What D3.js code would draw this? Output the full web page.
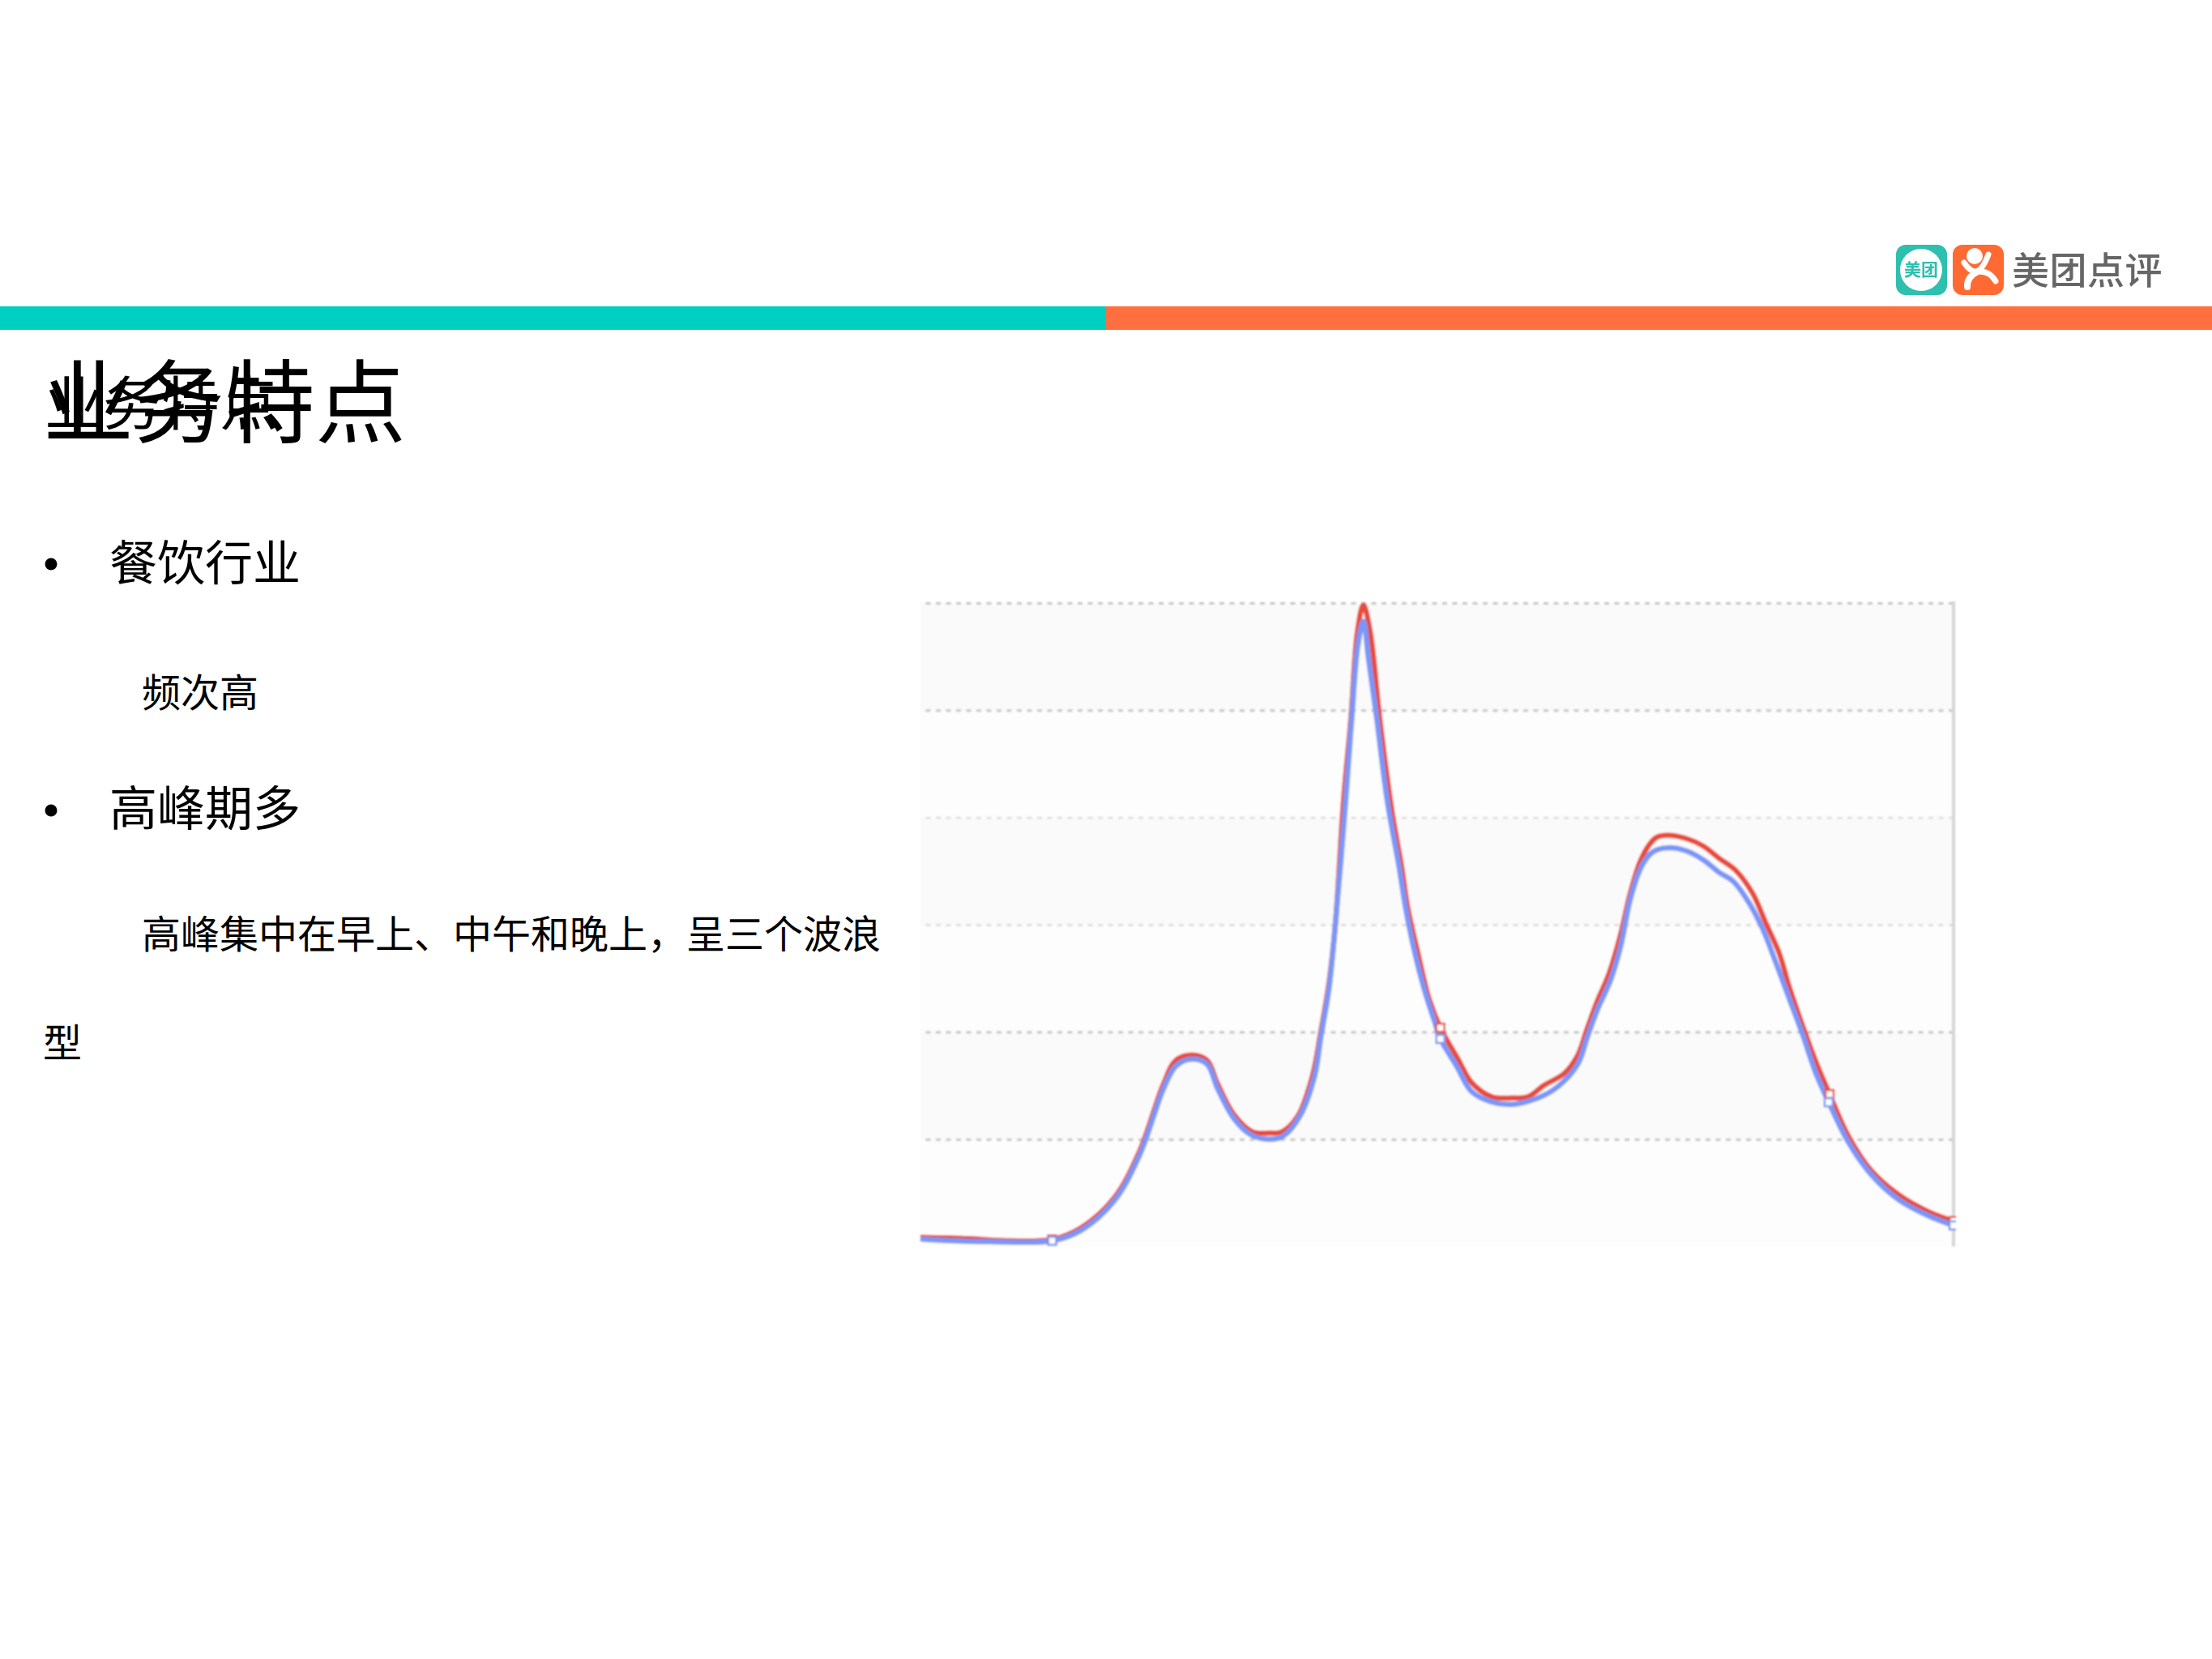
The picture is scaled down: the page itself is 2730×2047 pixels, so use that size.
<!DOCTYPE html>
<html lang="zh">
<head>
<meta charset="utf-8">
<title>业务特点</title>
<script src="https://cdn.jsdelivr.net/npm/d3@7/dist/d3.min.js"></script>
<style>
html,body{margin:0;padding:0;background:#fff}
svg{display:block}
text{font-family:"Noto Sans CJK SC","Noto Sans",sans-serif;fill:#000}
</style>
</head>
<body>
<script>
// ---- chart data (x = hour of day, y = orders in grid units) ----
const blueHours = [0,0.66,1.62,3.06,3.73,4.5,5.08,5.65,5.94,6.31,6.66,6.9,7.28,7.67,8.1,8.43,8.82,9.16,9.3,9.49,9.64,9.88,10.02,10.16,10.29,10.41,10.6,10.84,11.12,11.27,11.46,11.7,11.94,12.08,12.47,12.8,13.27,13.76,14.34,14.8,15.27,15.49,15.72,16.03,16.26,16.49,16.72,16.95,17.11,17.41,17.8,18.18,18.57,18.88,19.26,19.57,19.87,20.18,20.49,20.8,21.1,21.56,22.1,22.72,23.41,24];
const blueValues = [0.07,0.055,0.045,0.053,0.15,0.425,0.841,1.474,1.685,1.748,1.7,1.474,1.194,1.043,1,1.03,1.219,1.597,1.95,2.403,3.008,4.164,4.922,5.602,5.829,5.479,4.922,4.166,3.537,3.159,2.781,2.403,2.1,1.935,1.672,1.446,1.348,1.325,1.384,1.489,1.7,1.95,2.201,2.482,2.789,3.237,3.517,3.658,3.699,3.718,3.688,3.607,3.484,3.405,3.197,2.957,2.649,2.313,1.98,1.617,1.345,0.97,0.665,0.438,0.287,0.196];
const redHours = [0,1.14,1.9,3.06,3.73,4.5,5.08,5.65,5.94,6.31,6.66,6.9,7.28,7.72,8.1,8.39,8.77,9.11,9.3,9.49,9.64,9.83,10,10.15,10.29,10.45,10.67,10.96,11.18,11.32,11.56,11.82,12.08,12.5,12.8,13.27,13.76,14.11,14.49,14.96,15.27,15.49,15.72,15.99,16.26,16.49,16.72,16.95,17.11,17.41,17.8,18.18,18.57,18.95,19.33,19.64,19.95,20.18,20.49,20.8,21.12,21.56,22.1,22.72,23.41,24];
const redValues = [0.085,0.073,0.055,0.066,0.174,0.453,0.879,1.521,1.738,1.786,1.736,1.521,1.232,1.068,1.058,1.068,1.219,1.597,2.003,2.456,3.008,4.166,4.922,5.728,5.98,5.728,4.922,4.043,3.537,3.159,2.73,2.305,2.04,1.74,1.53,1.396,1.384,1.396,1.504,1.614,1.783,2.033,2.285,2.539,2.902,3.295,3.59,3.756,3.816,3.834,3.803,3.735,3.615,3.503,3.295,3.015,2.736,2.426,2.063,1.726,1.421,1.028,0.703,0.484,0.326,0.237];
const markerIndexBlue = [3,33,60,65];
const markerIndexRed = [3,32,60,65];
const gridTicks = [1,2,3,4,5,6];
const strongGrid = [1,2,5,6];
const xDomain = [0,24];
const yDomain = [0,6];

// ---- slide text ----
const slideTitle = "业务特点";
const bullets = ["餐饮行业","高峰期多"];
const subLine1 = "频次高";
const subLine2 = "高峰集中在早上、中午和晚上，呈三个波浪";
const subLine3 = "型";
const logoText = "美团点评";
const logoInner = "美团";

const svg = d3.select("body").append("svg").attr("width",2730).attr("height",2047).attr("viewBox","0 0 2730 2047");
const defs = svg.append("defs");
defs.append("filter").attr("id","soft").attr("x","-5%").attr("y","-5%").attr("width","110%").attr("height","110%")
  .append("feGaussianBlur").attr("stdDeviation",1.1);
defs.append("filter").attr("id","softLogo").append("feGaussianBlur").attr("stdDeviation",0.7);
defs.append("clipPath").attr("id","plotClip").append("rect").attr("x",1130).attr("y",735).attr("width",1284).attr("height",805);

// ---- header bars ----
svg.append("rect").attr("x",0).attr("y",378).attr("width",1365).attr("height",29).attr("fill","#00cec1");
svg.append("rect").attr("x",1365).attr("y",378).attr("width",1365).attr("height",29).attr("fill","#ff6f40");

// ---- logo ----
const logo = svg.append("g").attr("filter","url(#softLogo)");
logo.append("rect").attr("x",2340).attr("y",302).attr("width",63).attr("height",62).attr("rx",12).attr("fill","#2fbfae");
logo.append("circle").attr("cx",2371).attr("cy",333).attr("r",26).attr("fill","#fff");
logo.append("text").attr("x",2371).attr("y",340).attr("text-anchor","middle").attr("font-size",21).attr("font-weight",700).style("fill","#2fbfae").text(logoInner);
logo.append("rect").attr("x",2410).attr("y",302).attr("width",63).attr("height",62).attr("rx",12).attr("fill","#ff6a33");
logo.append("circle").attr("cx",2437).attr("cy",316).attr("r",10).attr("fill","#fff");
logo.append("path").attr("d","M2424 324 Q2432 336 2439 335 Q2447 333 2454 314").attr("fill","none").attr("stroke","#fff").attr("stroke-width",7).attr("stroke-linecap","round");
logo.append("path").attr("d","M2441 335 Q2427 342 2428 354").attr("fill","none").attr("stroke","#fff").attr("stroke-width",8).attr("stroke-linecap","round");
logo.append("path").attr("d","M2441 335 Q2456 334 2463 347").attr("fill","none").attr("stroke","#fff").attr("stroke-width",7).attr("stroke-linecap","round");
logo.append("text").attr("x",2483).attr("y",350).attr("font-size",46).attr("font-weight",500).attr("letter-spacing",0.5).style("fill","#666").text(logoText);

// ---- title (two overlapping copies, as in the slide) ----
svg.append("text").attr("x",53).attr("y",538).attr("font-size",112).text(slideTitle);
svg.append("text").attr("x",55).attr("y",524).attr("font-size",72).text(slideTitle);

// ---- body text ----
const bulletRows = [{t:bullets[0],y:716,by:696},{t:bullets[1],y:1019,by:1000}];
bulletRows.forEach(r=>{
  svg.append("circle").attr("cx",63).attr("cy",r.by).attr("r",7.5).attr("fill","#000");
  svg.append("text").attr("x",135).attr("y",r.y).attr("font-size",59).text(r.t);
});
svg.append("text").attr("x",175).attr("y",872).attr("font-size",48).text(subLine1);
svg.append("text").attr("x",175).attr("y",1170).attr("font-size",48).text(subLine2);
svg.append("text").attr("x",53).attr("y",1304).attr("font-size",48).text(subLine3);

// ---- chart ----
const x = d3.scaleLinear().domain(xDomain).range([1136,2411]);
const y = d3.scaleLinear().domain(yDomain).range([1538,744]);
const chart = svg.append("g").attr("filter","url(#soft)");

// alternating bands between the grid lines
const bandLower = [0,1,2,3,4,5];
chart.selectAll("rect.band").data(bandLower).join("rect").attr("class","band")
  .attr("x",x(xDomain[0])).attr("width",x(xDomain[1])-x(xDomain[0]))
  .attr("y",d=>y(d+1)).attr("height",d=>y(d)-y(d+1))
  .attr("fill",d=>d%2===0?"#fdfdfd":"#fafafa");

// grid lines via an axis
const gridG = chart.append("g").attr("transform",`translate(${x(xDomain[1])},0)`)
  .call(d3.axisLeft(y).tickValues(gridTicks).tickFormat("").tickSize(x(xDomain[1])-x(xDomain[0])-4).tickSizeOuter(0));
gridG.select(".domain").remove();
gridG.selectAll(".tick line")
  .attr("stroke",d=>strongGrid.includes(d)?"#c4c4c4":"#d8d8d8")
  .attr("stroke-width",d=>strongGrid.includes(d)?3:2.4)
  .attr("stroke-dasharray","6 6.5");

// right axis line
chart.append("line").attr("x1",x(xDomain[1])).attr("x2",x(xDomain[1])).attr("y1",y(6)-2).attr("y2",y(0))
  .attr("stroke","#d6d6d6").attr("stroke-width",4);

const line = d3.line().x(d=>x(d[0])).y(d=>y(d[1])).curve(d3.curveCatmullRom.alpha(0.5));
const redPts = d3.zip(redHours,redValues);
const bluePts = d3.zip(blueHours,blueValues);
const lines = chart.append("g").attr("clip-path","url(#plotClip)");
lines.append("path").datum(redPts).attr("d",line).attr("fill","none").attr("stroke","#e84b3e").attr("stroke-width",6.5).attr("stroke-linejoin","miter");
lines.append("path").datum(bluePts).attr("d",line).attr("fill","none").attr("stroke","#7a96f8").attr("stroke-width",6.5).attr("stroke-linejoin","miter");

function markers(points, idx, color){
  lines.selectAll(null).data(idx.map(i=>points[i])).join("rect")
    .attr("x",d=>x(d[0])-5).attr("y",d=>y(d[1])-5).attr("width",10).attr("height",10)
    .attr("fill","#fff").attr("stroke",color).attr("stroke-width",2.5);
}
markers(redPts,markerIndexRed,"#e84b3e");
markers(bluePts,markerIndexBlue,"#7a96f8");
</script>
</body>
</html>
